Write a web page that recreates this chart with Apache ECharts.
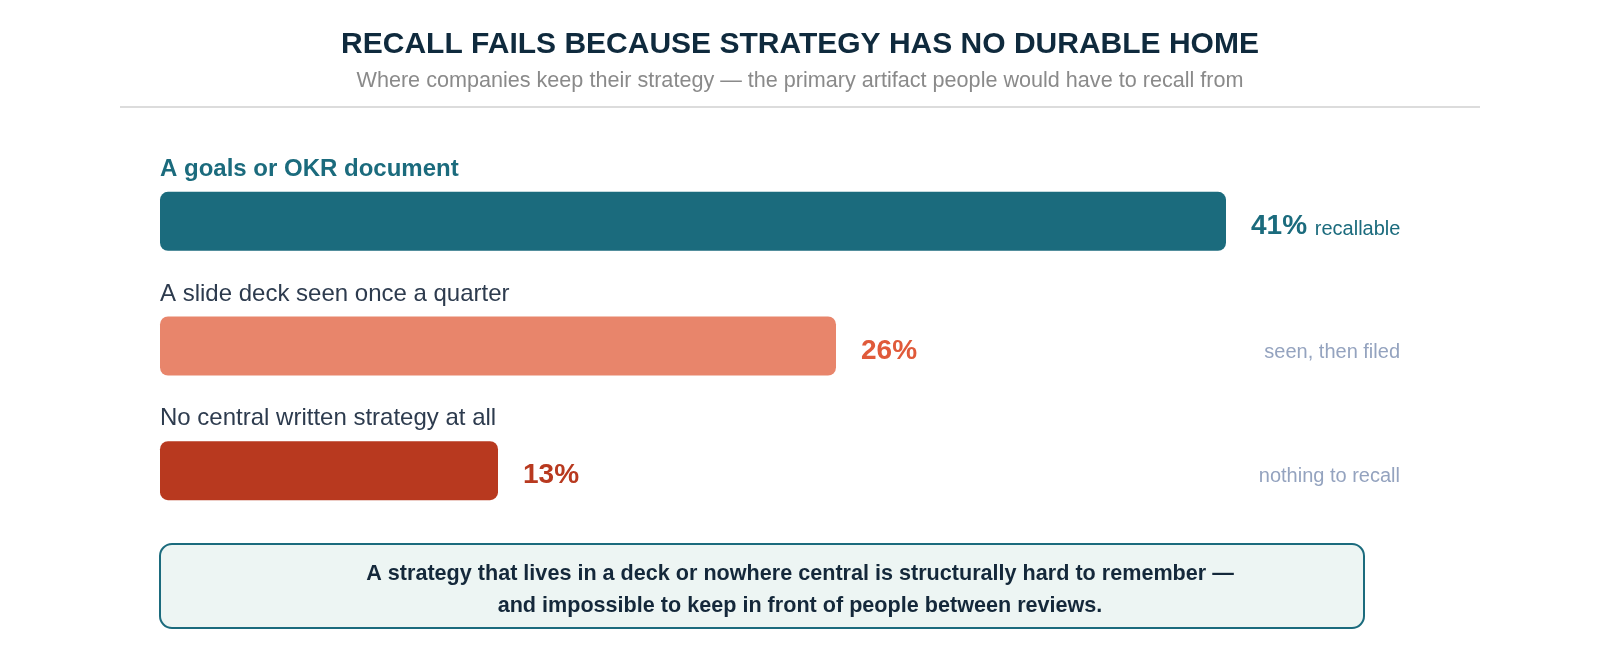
<!DOCTYPE html>
<html>
<head>
<meta charset="utf-8">
<style>
  html, body { margin: 0; padding: 0; background: #fff; }
  #main { width: 1600px; height: 660px; }
</style>
<script src="https://cdn.jsdelivr.net/npm/echarts@6/dist/echarts.min.js"></script>
</head>
<body>
<div id="main"></div>
<script>
// data
var categories = [
  'A goals or OKR document',
  'A slide deck seen once a quarter',
  'No central written strategy at all'
];
var shares = [41, 26, 13];
var notes = ['recallable', 'seen, then filed', 'nothing to recall'];

var TITLE = 'RECALL FAILS BECAUSE STRATEGY HAS NO DURABLE HOME';
var SUBTITLE = 'Where companies keep their strategy \u2014 the primary artifact people would have to recall from';
var TAKEAWAY = 'A strategy that lives in a deck or nowhere central is structurally hard to remember \u2014\nand impossible to keep in front of people between reviews.';

var FONT = '"Liberation Sans", Arial, Helvetica, sans-serif';
var barColors = ['#1b6b7d', '#e8856b', '#b8391f'];
var valueColors = ['#1b6b7d', '#e05a3a', '#b8391f'];

var chartDom = document.getElementById('main');
var myChart = echarts.init(chartDom, null, { renderer: 'canvas' });

function buildSeriesData() {
  return shares.map(function (v, i) {
    return {
      value: v,
      itemStyle: { color: barColors[i] },
      label: { color: valueColors[i] }
    };
  });
}

var option = {
  animation: false,
  backgroundColor: '#fff',
  textStyle: { fontFamily: FONT },
  title: [
    {
      text: TITLE,
      left: 'center',
      top: 25,
      textStyle: { fontSize: 30, fontWeight: 'bold', color: '#0f2a3d', fontFamily: FONT }
    },
    {
      text: SUBTITLE,
      left: 'center',
      top: 65,
      textStyle: { fontSize: 21.6, fontWeight: 'normal', color: '#8a8a8a', fontFamily: FONT }
    }
  ],
  grid: {
    left: 160,
    right: 140,
    top: 159,
    bottom: 127,
    containLabel: false,
    outerBoundsMode: 'none'
  },
  xAxis: {
    type: 'value',
    min: 0,
    max: 50,
    show: false
  },
  yAxis: [
    {
      type: 'category',
      data: categories,
      inverse: true,
      axisLine: { show: false },
      axisTick: { show: false },
      splitLine: { show: false },
      axisLabel: {
        interval: 0,
        align: 'left',
        margin: 0,
        padding: [0, 0, 104, 0],
        formatter: function (value, idx) {
          return idx === 0 ? '{hl|' + value + '}' : '{n|' + value + '}';
        },
        rich: {
          hl: { fontSize: 24, fontWeight: 'bold', color: '#1b6b7d', fontFamily: FONT },
          n: { fontSize: 24, fontWeight: 'normal', color: '#2d3b4e', fontFamily: FONT }
        }
      }
    },
    {
      type: 'category',
      data: categories,
      inverse: true,
      position: 'right',
      axisLine: { show: false },
      axisTick: { show: false },
      splitLine: { show: false },
      axisLabel: {
        interval: 0,
        align: 'right',
        margin: -60,
        formatter: function (value, idx) {
          return idx === 0 ? '' : '{c|' + notes[idx] + '}';
        },
        rich: {
          c: {
            fontSize: 20,
            color: '#94a3bf',
            fontFamily: FONT,
            padding: [12, 0, 0, 0]
          }
        }
      }
    }
  ],
  series: [
    {
      type: 'bar',
      yAxisIndex: 0,
      data: buildSeriesData(),
      barWidth: 59,
      itemStyle: { borderRadius: 8 },
      label: {
        show: true,
        position: 'right',
        distance: 25,
        offset: [0, 5],
        fontFamily: FONT,
        fontSize: 28,
        formatter: function (p) {
          if (p.dataIndex === 0) {
            return '{v|' + p.value + '%} {c|' + notes[0] + '}';
          }
          return '{v|' + p.value + '%}';
        },
        rich: {
          v: { fontSize: 28, fontWeight: 'bold', fontFamily: FONT },
          c: { fontSize: 20, fontWeight: 'normal', fontFamily: FONT, padding: [6, 0, 0, 0] }
        }
      }
    }
  ],
  graphic: [
    {
      type: 'line',
      shape: { x1: 120, y1: 107, x2: 1480, y2: 107 },
      style: { stroke: '#dcdcdc', lineWidth: 2 }
    },
    {
      type: 'rect',
      shape: { x: 160, y: 544, width: 1204, height: 84, r: 12 },
      style: { fill: '#edf5f3', stroke: '#1b6b7d', lineWidth: 2 }
    },
    {
      type: 'text',
      x: 800,
      y: 590,
      style: {
        text: TAKEAWAY,
        fill: '#14283a',
        font: 'bold 21.6px ' + FONT,
        align: 'center',
        verticalAlign: 'middle',
        lineHeight: 32
      }
    }
  ]
};

myChart.setOption(option);

window.addEventListener('resize', function () {
  myChart.resize();
});
</script>
</body>
</html>
